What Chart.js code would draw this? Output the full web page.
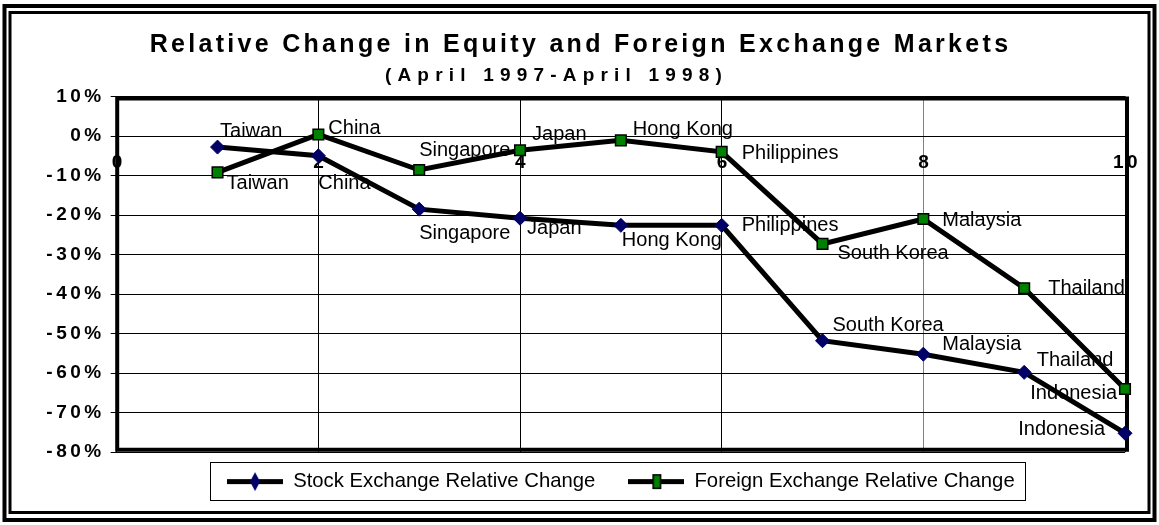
<!DOCTYPE html>
<html><head><meta charset="utf-8">
<script src="https://cdn.jsdelivr.net/npm/chart.js@4.4.1/dist/chart.umd.min.js"></script>
<style>html,body{margin:0;padding:0;background:#fff;overflow:hidden}#wrap{width:1159px;height:525px;position:relative}</style>
</head><body><div id="wrap"><canvas id="c" width="1159" height="525"></canvas></div>
<script>
// ---------- data ----------
const TITLE = 'Relative Change in Equity and Foreign Exchange Markets';
const SUBTITLE = '(April 1997-April 1998)';
const countries = ['Taiwan','China','Singapore','Japan','Hong Kong','Philippines','South Korea','Malaysia','Thailand','Indonesia'];
const countryPositions = [1,2,3,4,5,6,7,8,9,10];
const stockChange = [-2.8,-5.0,-18.5,-20.8,-22.6,-22.6,-51.8,-55.2,-59.8,-75.2];
const fxChange = [-9.2,0.4,-8.6,-3.6,-1.1,-4.0,-27.3,-21.0,-38.5,-64.0];
const seriesNames = ['Stock Exchange Relative Change','Foreign Exchange Relative Change'];
const yTickValues = [10,0,-10,-20,-30,-40,-50,-60,-70,-80];
const yTickLabels = ['10%','0%','-10%','-20%','-30%','-40%','-50%','-60%','-70%','-80%'];
const xTickValues = [0,2,4,6,8,10];
const xTickLabels = ['0','2','4','6','8','10'];

// ---------- styling (label placement offsets in px) ----------
const stockLabelPlacement = [[2.5,-15.5,'left'],[0,28,'left'],[0,24,'left'],[7,10,'left'],[1,15,'left'],[20,0,'left'],[10,-15,'left'],[19,-10,'left'],[12.5,-12,'left'],[-20,-4,'right']];
const fxLabelPlacement = [[9,11,'left'],[10,-6,'left'],[0,-19.5,'left'],[12,-16,'left'],[12,-11,'left'],[20,2,'left'],[15,10,'left'],[19,1,'left'],[24,0,'left'],[-8,5,'right']];
const NAVY = '#000066', GREEN = '#008000';
const FONT = "'Liberation Sans', Arial, sans-serif";
Chart.defaults.font.family = FONT;

function legendSymbol(kind){
  const c = document.createElement('canvas'); c.width = 56; c.height = 22;
  const g = c.getContext('2d');
  g.fillStyle = '#000'; g.fillRect(0, 9, 56, 5);
  if (kind === 'diamond') {
    g.fillStyle = NAVY; g.beginPath(); g.moveTo(28,2); g.lineTo(33,11.5); g.lineTo(28,21); g.lineTo(23,11.5); g.closePath(); g.fill();
  } else {
    g.fillStyle = '#000'; g.fillRect(24,4,9,15); g.fillStyle = GREEN; g.fillRect(25.5,5.5,6,12);
  }
  return c;
}
const legendSymbols = [legendSymbol('diamond'), legendSymbol('square')];

const spacingPlugin = {
  id: 'spacing',
  beforeDraw(chart){
    chart.boxes.forEach(b => {
      if (b._lsWrapped) return;
      if (b === chart.scales.x || b === chart.scales.y) {
        const orig = b.drawLabels;
        const dx = b === chart.scales.x ? 2 : 2;
        b.drawLabels = function(a){ const ctx=this.ctx; ctx.save(); ctx.letterSpacing='3.5px'; ctx.translate(dx,0); orig.call(this,a); ctx.restore(); };
        b._lsWrapped = true;
      } else if (b.options && (b.options.text === TITLE || b.options.text === SUBTITLE)) {
        const isTitle = b.options.text === TITLE;
        const sp = isTitle ? '3.3px' : '6.2px';
        const dx = isTitle ? 13 : -11;
        const orig = b.draw;
        b.draw = function(a){ const ctx=this.ctx; ctx.save(); ctx.letterSpacing=sp; ctx.translate(dx,0); orig.call(this,a); ctx.restore(); };
        b._lsWrapped = true;
      }
    });
  }
};

const decorPlugin = {
  id: 'decor',
  beforeDraw(chart){
    const ctx = chart.ctx; ctx.save(); ctx.fillStyle='#fff'; ctx.fillRect(0,0,chart.width,chart.height); ctx.restore();
  },
  afterLayout(chart){
    if (chart.legend) { chart.legend.top -= 14.25; chart.legend.bottom -= 14.25; }
  },
  beforeDatasetsDraw(chart){
    const ctx = chart.ctx; const a = chart.chartArea;
    // data labels (drawn under the lines)
    ctx.save();
    ctx.letterSpacing = '0px';
    ctx.font = '20px ' + FONT; ctx.fillStyle = '#000'; ctx.textBaseline = 'middle';
    [stockLabelPlacement, fxLabelPlacement].forEach((pl, di) => {
      const meta = chart.getDatasetMeta(di);
      meta.data.forEach((pt, i) => {
        const p = pl[i];
        ctx.textAlign = p[2];
        ctx.fillText(countries[i], pt.x + p[0], pt.y + p[1]);
      });
    });
    ctx.restore();
    // plot frame
    ctx.save(); ctx.strokeStyle='#000'; ctx.lineWidth=4;
    ctx.beginPath();
    ctx.rect(a.left+0.5, a.top+2, a.right-a.left+1.5, a.bottom-a.top-4.5);
    ctx.stroke(); ctx.restore();
    // legend border
    const lg = chart.legend;
    if (lg && lg.legendHitBoxes && lg.legendHitBoxes.length) {
      const hb = lg.legendHitBoxes; const first = hb[0], last = hb[hb.length-1];
      const cy = first.top + first.height/2;
      ctx.save(); ctx.strokeStyle='#000'; ctx.lineWidth=1;
      ctx.strokeRect(Math.round(first.left-17)+0.5, Math.round(cy-19)+0.5, Math.round(last.left+last.width+10-(first.left-17)), 38);
      ctx.restore();
    }
  },
  afterDraw(chart){
    const ctx = chart.ctx; const W = chart.width, H = chart.height;
    ctx.save(); ctx.strokeStyle='#000';
    ctx.lineWidth = 4; ctx.strokeRect(4.5, 6, W-9, H-11);
    ctx.lineWidth = 3; ctx.strokeRect(10, 12.5, W-20, H-25);
    ctx.restore();
  }
};

new Chart(document.getElementById('c'), {
  type: 'line',
  data: {
    datasets: [
      { label: seriesNames[0], data: countryPositions.map((x,i)=>({x, y: stockChange[i]})),
        borderColor:'#000', borderWidth:5, tension:0, clip:false,
        pointStyle:'rectRot', pointRadius:7, pointBackgroundColor:NAVY, pointBorderColor:NAVY, pointBorderWidth:1 },
      { label: seriesNames[1], data: countryPositions.map((x,i)=>({x, y: fxChange[i]})),
        borderColor:'#000', borderWidth:5, tension:0, clip:false,
        pointStyle:'rect', pointRadius:7.5, pointBackgroundColor:GREEN, pointBorderColor:'#000', pointBorderWidth:1.5 }
    ]
  },
  options: {
    responsive:false, animation:false, devicePixelRatio:1,
    layout: { padding: { left:10, right:34, top:0, bottom:9.5 } },
    plugins: {
      title: { display:true, text:TITLE, color:'#000', font:{ size:25, weight:'bold' }, padding:{ top:30.5, bottom:0 } },
      subtitle: { display:true, text:SUBTITLE, color:'#000', font:{ size:19, weight:'bold' }, padding:{ top:3.5, bottom:9.7 } },
      legend: { position:'bottom', fullSize:false,
        labels: { usePointStyle:true, pointStyleWidth:56, boxHeight:20.5, color:'#000', font:{ size:20.3 }, padding:33,
          generateLabels: (chart) => chart.data.datasets.map((ds,i)=>({ text: ds.label, pointStyle: legendSymbols[i], fillStyle:'#000', strokeStyle:'#000', lineWidth:0, hidden:false, datasetIndex:i, fontColor:'#000' })) } },
      tooltip: { enabled:false }
    },
    scales: {
      x: { type:'linear', min:0, max:10, position:{ y:0 },
        afterBuildTicks: s => { s.ticks = xTickValues.map(v=>({value:v})); },
        afterFit: s => { s.paddingLeft = 0; s.paddingRight = 0; },
        ticks: { color:'#000', font:{ size:19, weight:'bold' }, padding:15, autoSkip:false, maxRotation:0,
          callback: v => xTickLabels[xTickValues.indexOf(v)] },
        grid: { color: c => (c.tick && c.tick.value === 8) ? '#808080' : '#000', lineWidth:1, drawTicks:false },
        border: { display:false } },
      y: { type:'linear', min:-80, max:10,
        afterBuildTicks: s => { s.ticks = [...yTickValues].sort((a,b)=>a-b).map(v=>({value:v})); },
        afterFit: s => { s.width = 106.7; s.paddingTop = 0; s.paddingBottom = 0; },
        ticks: { color:'#000', font:{ size:19, weight:'bold' }, padding:8,
          callback: v => yTickLabels[yTickValues.indexOf(v)] },
        grid: { color:'#000', lineWidth:1, tickLength:6 },
        border: { display:false } }
    }
  },
  plugins: [spacingPlugin, decorPlugin]
});
</script></body></html>
